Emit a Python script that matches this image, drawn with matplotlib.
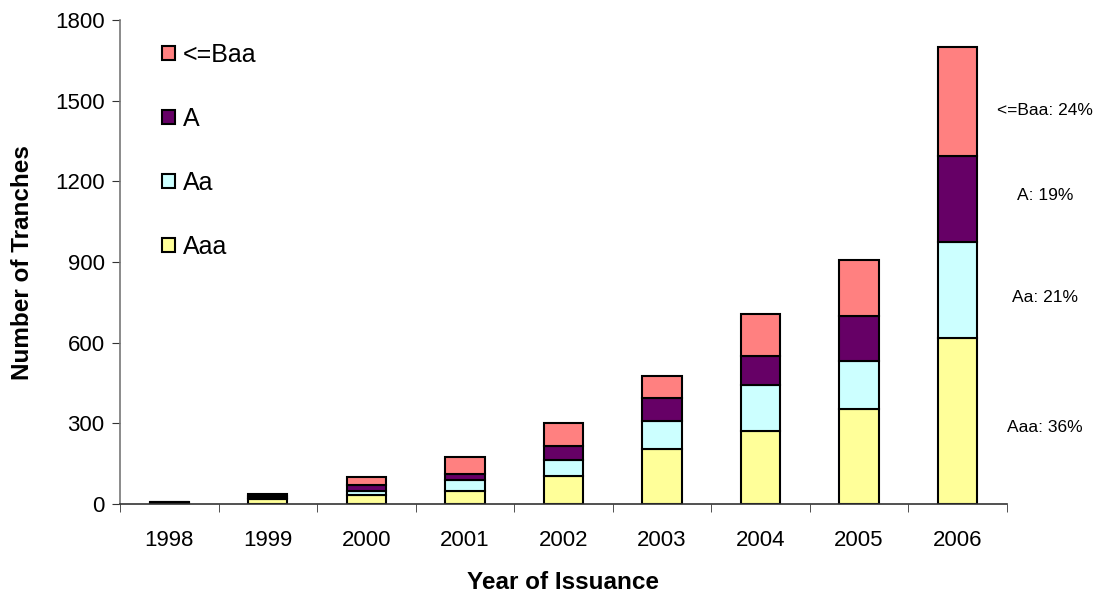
import matplotlib.pyplot as plt
import numpy as np

plt.rcParams['font.family'] = ['Liberation Sans', 'DejaVu Sans']

years = ['1998', '1999', '2000', '2001', '2002', '2003', '2004', '2005', '2006']
aaa = [2, 18, 35, 47, 103, 206, 270, 353, 617]
aa = [2, 5, 14, 43, 62, 104, 171, 179, 357]
a = [2, 8, 20, 20, 49, 84, 111, 166, 320]
baa = [2, 6, 30, 65, 89, 83, 155, 208, 406]

series = [('Aaa', aaa, '#FFFF99'), ('Aa', aa, '#CCFFFF'),
          ('A', a, '#660066'), ('<=Baa', baa, '#FF8080')]

fig = plt.figure(figsize=(11.07, 5.95), dpi=100)
ax = fig.add_axes([0.1084, 0.153, 0.801, 0.813])

x = np.arange(len(years))
bottom = np.zeros(len(years))
handles = []
for name, vals, col in series:
    b = ax.bar(x, vals, 0.4, bottom=bottom, color=col, edgecolor='black',
               linewidth=1.5, label=name)
    handles.append(b)
    bottom += np.array(vals)

# share labels for the last year
total = bottom[-1]
label_y = [286, 770, 1149, 1465]
for (name, vals, col), yy in zip(series, label_y):
    pct = round(vals[-1] / total * 100)
    ax.text(1.043, yy, f'{name}: {pct}%', transform=ax.get_yaxis_transform(),
            ha='center', va='center', fontsize=12.5)

ax.set_xlim(-0.5, len(years) - 0.5)
ax.set_ylim(0, 1800)
ax.set_yticks(np.arange(0, 1801, 300))
ax.set_xticks(x)
ax.set_xticklabels(years)
ax.set_xticks(np.arange(-0.5, len(years)), minor=True)
ax.tick_params(axis='x', which='major', length=0, labelsize=16, pad=19)
ax.tick_params(axis='x', which='minor', length=6, direction='out', color='#333333')
ax.tick_params(axis='y', length=6, direction='out', labelsize=16, color='#333333', pad=5)

for s in ['top', 'right']:
    ax.spines[s].set_visible(False)
ax.spines['left'].set_color('#777777')
ax.spines['bottom'].set_color('#333333')
ax.spines['left'].set_linewidth(1.2)
ax.spines['bottom'].set_linewidth(1.2)

ax.set_xlabel('Year of Issuance', fontsize=17.5, fontweight='bold', labelpad=14)
ax.set_ylabel('Number of Tranches', fontsize=17.5, fontweight='bold', labelpad=15)

ax.legend(handles[::-1], [s[0] for s in series][::-1], loc='upper left',
          bbox_to_anchor=(0.022, 1.0), frameon=False, fontsize=18,
          labelspacing=1.6, handlelength=0.52, handleheight=0.52, handletextpad=0.3)

fig.savefig('out.png', dpi=100)
